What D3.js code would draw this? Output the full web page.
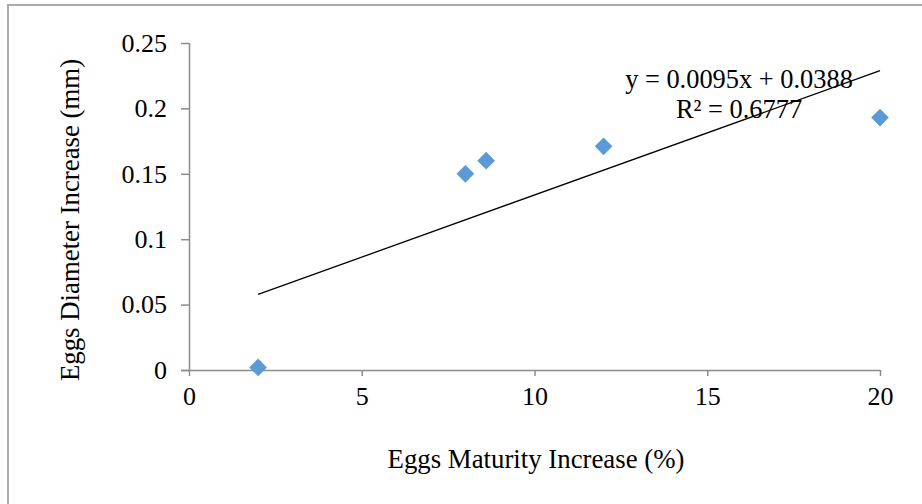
<!DOCTYPE html>
<html>
<head>
<meta charset="utf-8">
<script src="https://cdn.jsdelivr.net/npm/d3@7"></script>
<style>
body{margin:0;background:#fff;}
svg{display:block;}
text{font-family:"Liberation Serif","Times New Roman",serif;fill:#000;}
</style>
</head>
<body>
<svg id="c" width="922" height="504"></svg>
<script>
const maturity = [2, 8, 8.6, 12, 20];
const diameter = [0.002, 0.15, 0.16, 0.171, 0.193];
const xTicks = [0, 5, 10, 15, 20];
const yTicks = [0, 0.05, 0.1, 0.15, 0.2, 0.25];
const yTickLabels = ["0", "0.05", "0.1", "0.15", "0.2", "0.25"];
const slope = 0.0095, intercept = 0.0388;
const trendX = [2, 20];
const eqLines = ["y = 0.0095x + 0.0388", "R² = 0.6777"];
const xTitle = "Eggs Maturity Increase (%)";
const yTitle = "Eggs Diameter Increase (mm)";

const svg = d3.select("#c");
svg.append("rect").attr("x",8).attr("y",5).attr("width",930).attr("height",520)
  .attr("fill","none").attr("stroke","#ababab").attr("stroke-width",2);

const x = d3.scaleLinear().domain([0,20]).range([189,880]);
const y = d3.scaleLinear().domain([0,0.25]).range([370,43]);

const axisColor = "#8c8c8c";
const gx = svg.append("g").attr("transform","translate(0,370)")
  .call(d3.axisBottom(x).tickValues(xTicks).tickSize(6).tickPadding(11).tickFormat(d3.format("d")));
gx.select(".domain").attr("d","M181,0.5H880").attr("stroke",axisColor).attr("stroke-width",1.5);
gx.selectAll(".tick line").attr("stroke",axisColor).attr("stroke-width",1.5);
gx.selectAll(".tick text").attr("font-size",26).attr("font-family","Liberation Serif").attr("fill","#000");

const gy = svg.append("g").attr("transform","translate(189,0)")
  .call(d3.axisLeft(y).tickValues(yTicks).tickSize(8).tickPadding(14).tickFormat((d,i)=>yTickLabels[i]));
gy.select(".domain").attr("d","M0.5,43V370").attr("stroke",axisColor).attr("stroke-width",1.5);
gy.selectAll(".tick line").attr("stroke",axisColor).attr("stroke-width",1.5);
gy.selectAll(".tick text").attr("font-size",26).attr("font-family","Liberation Serif").attr("fill","#000");

// trendline
svg.append("line")
  .attr("x1",x(trendX[0])).attr("y1",y(slope*trendX[0]+intercept))
  .attr("x2",x(trendX[1])).attr("y2",y(slope*trendX[1]+intercept))
  .attr("stroke","#000").attr("stroke-width",1.3);

// points
const pts = maturity.map((m,i)=>({m, d:diameter[i]}));
svg.append("g").selectAll("path").data(pts).enter().append("path")
  .attr("d", d3.symbol().type(d3.symbolDiamond2 || d3.symbolSquare).size(200))
  .attr("transform", d=>`translate(${x(d.m)},${y(d.d)}) rotate(${d3.symbolDiamond2?0:45})`)
  .attr("fill","#5b9bd5");

// equation
svg.append("text").attr("x",739).attr("y",88).attr("text-anchor","middle").attr("font-size",26.4).text(eqLines[0]);
svg.append("text").attr("x",739).attr("y",118).attr("text-anchor","middle").attr("font-size",26.4).text(eqLines[1]);

// titles
svg.append("text").attr("x",536).attr("y",468).attr("text-anchor","middle").attr("font-size",26.8).text(xTitle);
svg.append("text").attr("transform","translate(79,220) rotate(-90)").attr("text-anchor","middle").attr("font-size",26.8).text(yTitle);
</script>
</body>
</html>
